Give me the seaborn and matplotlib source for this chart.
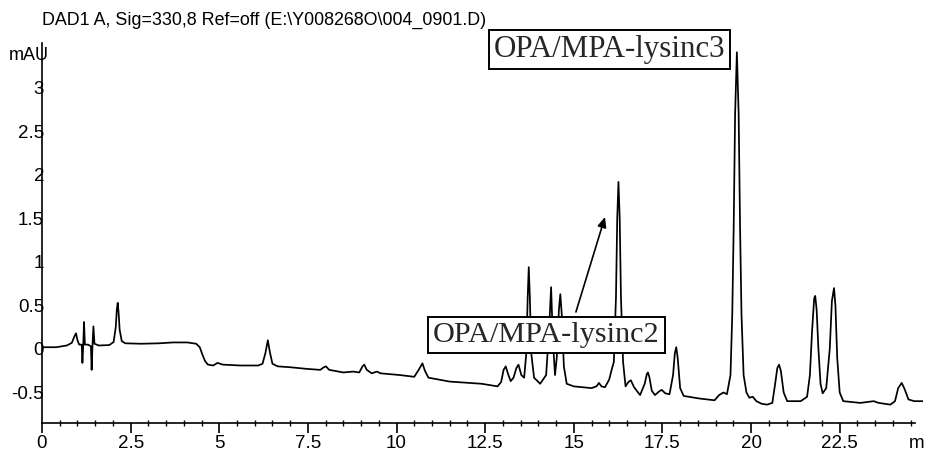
import matplotlib
matplotlib.use("Agg")
import matplotlib.pyplot as plt
from matplotlib.ticker import MultipleLocator, FixedLocator
import seaborn as sns

# DAD1 A chromatogram, retention time (min) vs absorbance (mAU)
trace_min = [
    0.00, 0.40, 0.70, 0.84, 0.92, 0.96, 1.00, 1.05, 1.12, 1.14, 1.165, 1.185,
    1.21, 1.30, 1.38, 1.40, 1.425, 1.45, 1.48, 1.60, 1.90, 2.02, 2.08, 2.11,
    2.135, 2.16, 2.19, 2.25, 2.35, 2.80, 3.30, 3.70, 4.10, 4.35, 4.45, 4.52,
    4.60, 4.68, 4.83, 4.95, 5.10, 5.60, 6.10, 6.22, 6.30, 6.37, 6.43, 6.50,
    6.65, 7.00, 7.50, 7.85, 7.95, 8.01, 8.10, 8.50, 8.78, 8.95, 9.04, 9.09,
    9.16, 9.30, 9.45, 9.55, 10.10, 10.50, 10.64, 10.73, 10.80, 10.90, 11.50, 12.40,
    12.85, 12.95, 13.02, 13.08, 13.14, 13.22, 13.30, 13.38, 13.44, 13.52, 13.60, 13.66,
    13.70, 13.73, 13.76, 13.80, 13.88, 14.05, 14.22, 14.30, 14.36, 14.41, 14.47, 14.52,
    14.58, 14.62, 14.66, 14.72, 14.80, 15.00, 15.50, 15.64, 15.71, 15.78, 15.88, 16.00,
    16.08, 16.13, 16.19, 16.225, 16.26, 16.295, 16.33, 16.39, 16.46, 16.54, 16.61, 16.70,
    16.87, 17.00, 17.06, 17.09, 17.13, 17.20, 17.29, 17.40, 17.48, 17.58, 17.70, 17.80,
    17.85, 17.89, 17.93, 18.00, 18.10, 18.55, 18.97, 19.10, 19.22, 19.32, 19.42, 19.47,
    19.51, 19.55, 19.60, 19.65, 19.69, 19.73, 19.79, 19.87, 19.95, 20.05, 20.15, 20.30,
    20.45, 20.60, 20.68, 20.74, 20.79, 20.84, 20.92, 21.02, 21.40, 21.58, 21.66, 21.72,
    21.78, 21.81, 21.85, 21.90, 21.96, 22.02, 22.12, 22.22, 22.28, 22.34, 22.38, 22.43,
    22.50, 22.60, 23.08, 23.46, 23.60, 23.93, 24.06, 24.15, 24.25, 24.33, 24.44, 24.60,
    24.85,
]
trace_mau = [
    0.02, 0.02, 0.04, 0.07, 0.15, 0.18, 0.10, 0.05, 0.05, -0.16, 0.06, 0.31,
    0.05, 0.05, 0.03, -0.24, 0.05, 0.26, 0.06, 0.04, 0.045, 0.08, 0.25, 0.45,
    0.53, 0.42, 0.22, 0.09, 0.065, 0.06, 0.065, 0.075, 0.075, 0.06, 0.02, -0.06,
    -0.14, -0.18, -0.19, -0.16, -0.18, -0.19, -0.19, -0.17, -0.05, 0.10, -0.04, -0.17,
    -0.20, -0.21, -0.23, -0.24, -0.21, -0.20, -0.24, -0.27, -0.26, -0.27, -0.20, -0.18,
    -0.24, -0.28, -0.26, -0.28, -0.30, -0.32, -0.23, -0.165, -0.25, -0.33, -0.375, -0.40,
    -0.43, -0.38, -0.24, -0.20, -0.28, -0.37, -0.33, -0.22, -0.18, -0.30, -0.33, -0.05,
    0.60, 0.94, 0.60, -0.05, -0.33, -0.40, -0.30, 0.20, 0.71, 0.10, -0.30, -0.10,
    0.45, 0.63, 0.40, -0.20, -0.40, -0.43, -0.45, -0.43, -0.39, -0.43, -0.44, -0.35,
    -0.22, -0.15, 0.60, 1.50, 1.92, 1.50, 0.60, -0.15, -0.43, -0.38, -0.36, -0.44,
    -0.53, -0.40, -0.29, -0.27, -0.32, -0.48, -0.53, -0.49, -0.47, -0.51, -0.52, -0.30,
    -0.05, 0.02, -0.10, -0.45, -0.54, -0.57, -0.59, -0.53, -0.50, -0.52, -0.30, 0.40,
    1.40, 2.70, 3.41, 2.70, 1.40, 0.40, -0.30, -0.50, -0.56, -0.55, -0.60, -0.63,
    -0.64, -0.62, -0.40, -0.22, -0.18, -0.25, -0.50, -0.60, -0.60, -0.55, -0.30, 0.20,
    0.58, 0.61, 0.45, 0.00, -0.40, -0.51, -0.45, 0.00, 0.55, 0.70, 0.50, -0.10,
    -0.50, -0.60, -0.62, -0.60, -0.62, -0.64, -0.60, -0.45, -0.39, -0.46, -0.58, -0.60,
    -0.60,
]

x_ticks = [0, 2.5, 5, 7.5, 10, 12.5, 15, 17.5, 20, 22.5]
x_tick_labels = ["0", "2.5", "5", "7.5", "10", "12.5", "15", "17.5", "20", "22.5"]
y_ticks = [-0.5, 0, 0.5, 1, 1.5, 2, 2.5, 3]
y_tick_labels = ["-0.5", "0", "0.5", "1", "1.5", "2", "2.5", "3"]

title_text = "DAD1 A, Sig=330,8 Ref=off (E:\\Y008268O\\004_0901.D)"
label_peak3 = "OPA/MPA-lysinc3"
label_peak2 = "OPA/MPA-lysinc2"

sns.set_theme(style="white")
plt.rcParams["font.family"] = ["Liberation Sans", "DejaVu Sans"]

W, H = 929, 453
fig = plt.figure(figsize=(W / 100, H / 100), dpi=100)
ax = fig.add_axes([42 / W, 1 - 423 / H, (923 - 42) / W, (423 - 43) / H])

sns.lineplot(x=trace_min, y=trace_mau, sort=False, estimator=None,
             color="black", linewidth=1.25, ax=ax)

ax.set_xlim(0, 24.85)
ax.set_ylim(-0.851, 3.517)
for side in ("top", "right"):
    ax.spines[side].set_visible(False)
for side in ("left", "bottom"):
    ax.spines[side].set_color("black")
    ax.spines[side].set_linewidth(1.2)
ax.spines["bottom"].set_bounds(0, 24.62)

ax.xaxis.set_major_locator(FixedLocator(x_ticks))
ax.set_xticklabels(x_tick_labels)
ax.xaxis.set_minor_locator(MultipleLocator(0.5))
ax.tick_params(axis="x", which="major", direction="out", length=7, width=1.2,
               color="black", labelsize=13.5, pad=2, bottom=True)
ax.tick_params(axis="x", which="minor", direction="inout", length=4, width=1.0,
               color="black", bottom=True)

ax.yaxis.set_major_locator(FixedLocator(y_ticks))
ax.set_yticklabels(y_tick_labels)
ax.tick_params(axis="y", which="major", length=0, labelsize=13.5, pad=-1.5, left=True)
for lab in ax.get_xticklabels() + ax.get_yticklabels():
    lab.set_color("black")

ax.set_xlabel("")
ax.set_ylabel("")

fig.text(42 / W, 1 - 20 / H, title_text, fontsize=12.9, color="black",
         ha="left", va="center")
fig.text(9 / W, 1 - 55 / H, "mAU", fontsize=13, color="black",
         ha="left", va="center")
fig.text(917 / W, 1 - 444 / H, "m", fontsize=13.5, color="black",
         ha="center", va="center")

box_style = dict(boxstyle="square,pad=0.16", facecolor="white",
                 edgecolor="black", linewidth=1.4)
ax.text(16.0, 3.44, label_peak3, fontsize=22.3, family="Liberation Serif",
        ha="center", va="center", bbox=box_style, clip_on=False, zorder=5)
ax.text(14.23, 0.16, label_peak2, fontsize=21.8, family="Liberation Serif",
        ha="center", va="center", bbox=box_style, zorder=5)

ax.annotate("", xy=(15.88, 1.517), xytext=(15.06, 0.425),
            arrowprops=dict(arrowstyle="-|>,head_length=0.5,head_width=0.22",
                            color="black", lw=1.2, shrinkA=0, shrinkB=0))

fig.savefig("out.png", dpi=100, facecolor="white")
